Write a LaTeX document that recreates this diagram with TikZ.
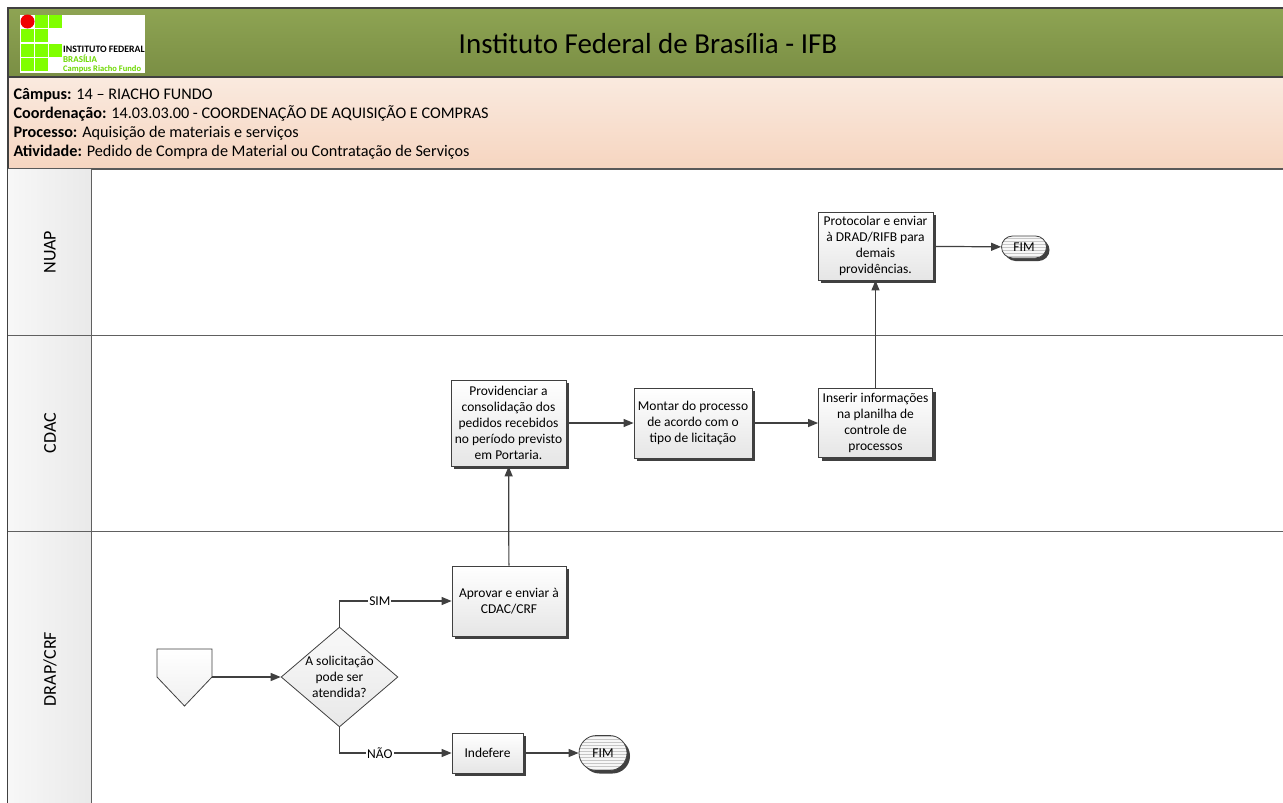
\documentclass[tikz,border=0pt]{standalone}
\usepackage{fontspec}
\setmainfont{Carlito}
\usetikzlibrary{arrows.meta,shadows,shapes.geometric,shapes.misc,patterns}

\definecolor{ifbgreen}{RGB}{128,255,0}
\definecolor{ifbred}{RGB}{240,0,0}
\definecolor{bandtop}{RGB}{142,164,83}
\definecolor{bandbottom}{RGB}{122,142,68}
\definecolor{peachtop}{RGB}{250,234,223}
\definecolor{peachbottom}{RGB}{246,213,192}
\definecolor{linegray}{RGB}{64,64,64}

\tikzset{
  boxshadow/.style={drop shadow={shadow xshift=3pt, shadow yshift=-3pt, fill=black!75, opacity=1}},
  task/.style={draw=linegray, line width=0.8pt, top color=white, bottom color=gray!20,
    boxshadow, align=center, inner sep=2pt, font=\fontsize{13.5}{16}\selectfont},
  fim/.style={rounded rectangle, draw=linegray, line width=0.8pt, boxshadow,
    preaction={fill=gray!6}, pattern=horizontal lines, pattern color=gray!45,
    inner sep=0pt, font=\fontsize{13.5}{16}\selectfont},
  decision/.style={diamond, draw=linegray, line width=0.8pt, top color=gray!5, bottom color=gray!18,
    aspect=1.17, align=center, inner sep=0pt, font=\fontsize{13.5}{16}\selectfont},
  flow/.style={draw=linegray, line width=1.2pt, -{Triangle[length=10pt,width=8pt]}},
  answer/.style={fill=white, inner sep=1pt, font=\fontsize{13.5}{16}\selectfont},
  lanelabel/.style={rotate=90, font=\fontsize{18}{20}\selectfont},
  headline/.style={anchor=base west, font=\fontsize{16.2}{19}\selectfont}
}

\begin{document}
\begin{tikzpicture}[x=1pt,y=-1pt]
  \useasboundingbox (0,0) rectangle (1283,803);

  % header bands
  \shade[top color=bandtop, bottom color=bandbottom] (8,8) rectangle (1283,77);
  \shade[top color=peachtop, bottom color=peachbottom] (8,77) rectangle (1283,169);
  \draw[linegray, line width=1.5pt] (1283,8) -- (8,8) -- (8,803);
  \draw[linegray, line width=1.5pt] (8,77) -- (1283,77);
  \draw[gray!70!black, line width=1.2pt] (8,169) -- (1283,169);

  % logo
  \fill[white] (20,15) rectangle (145,73);
  \foreach \col/\row in {2/1,3/1,1/2,2/2,1/3,2/3,3/3,1/4,2/4}
    \fill[ifbgreen] (20.7+14.3*\col-14.3,15+14.3*\row-14.3) rectangle ++(13,13);
  \fill[ifbred] (27.5,21.5) circle (7);
  \node[anchor=base west, inner sep=0pt, font=\bfseries\fontsize{9.8}{10}\selectfont] (logoname) at (63,52) {INSTITUTO FEDERAL};
  \node[anchor=base west, inner sep=0pt, text=ifbgreen!85!black, font=\bfseries\fontsize{9}{10}\selectfont] (logostate) at (63,62) {BRASÍLIA};
  \node[anchor=base west, inner sep=0pt, text=ifbgreen!85!black, font=\bfseries\fontsize{8.5}{10}\selectfont] (logocampus) at (63,71) {Campus Riacho Fundo};

  \node[anchor=base, font=\fontsize{29}{30}\selectfont] (title) at (648,53) {Instituto Federal de Brasília - IFB};

  \node[headline] (campus) at (10,99) {\textbf{Câmpus:} 14 – RIACHO FUNDO};
  \node[headline] (coord) at (10,118) {\textbf{Coordenação:} 14.03.03.00 - COORDENAÇÃO DE AQUISIÇÃO E COMPRAS};
  \node[headline] (processo) at (10,137) {\textbf{Processo:} Aquisição de materiais e serviços};
  \node[headline] (atividade) at (10,156.5) {\textbf{Atividade:} Pedido de Compra de Material ou Contratação de Serviços};

  % swimlanes
  \shade[left color=gray!6, right color=gray!17] (8,169) rectangle (91,803);
  \draw[gray!75!black, line width=1pt] (91,169) -- (91,803);
  \draw[gray!75!black, line width=1pt] (8,335.5) -- (1283,335.5);
  \draw[gray!75!black, line width=1pt] (8,531.5) -- (1283,531.5);
  \node[lanelabel] (nuap) at (50,252) {NUAP};
  \node[lanelabel] (cdac) at (50,433) {CDAC};
  \node[lanelabel] (drap) at (50,669) {DRAP/CRF};

  % off-page connector
  \draw[linegray, line width=0.8pt, top color=white, bottom color=gray!12]
    (157,649) -- (212,649) -- (212,677) -- (184.5,706) -- (157,677) -- cycle;
  \coordinate (start) at (212,677);

  % activities
  \node[decision, minimum width=115pt, minimum height=98pt] (ask) at (339.5,677) {A solicitação\\pode ser\\atendida?};
  \node[task, minimum width=114pt, minimum height=70pt] (aprovar) at (509,601) {Aprovar e enviar à\\CDAC/CRF};
  \node[task, minimum width=71pt, minimum height=40pt] (indefere) at (487.5,753) {Indefere};
  \node[fim, minimum width=48pt, minimum height=35pt] (fimb) at (603,753) {FIM};
  \node[task, minimum width=115pt, minimum height=86pt] (consolidar) at (508.5,423) {Providenciar a\\consolidação dos\\pedidos recebidos\\no período previsto\\em Portaria.};
  \node[task, minimum width=118pt, minimum height=70pt] (montar) at (693,423) {Montar do processo\\de acordo com o\\tipo de licitação};
  \node[task, minimum width=114pt, minimum height=69pt] (inserir) at (875.5,423) {Inserir informações\\na planilha de\\controle de\\processos};
  \node[task, minimum width=115pt, minimum height=68pt] (protocolar) at (875.5,246) {Protocolar e enviar\\à DRAD/RIFB para\\demais\\providências.};
  \node[fim, minimum width=45pt, minimum height=22pt] (fima) at (1024,247) {FIM};

  % connectors
  \draw[flow] (start) -- (ask.west);
  \draw[flow] (ask.north) |- node[answer, pos=0.68] {SIM} (aprovar.west);
  \draw[flow] (ask.south) |- node[answer, pos=0.68] {NÃO} (indefere.west);
  \draw[flow] (indefere) -- (fimb);
  \draw[flow] (aprovar) -- (consolidar);
  \draw[flow] (consolidar) -- (montar);
  \draw[flow] (montar) -- (inserir);
  \draw[flow] (inserir) -- (protocolar);
  \draw[flow] (protocolar) -- (fima);
\end{tikzpicture}
\end{document}
